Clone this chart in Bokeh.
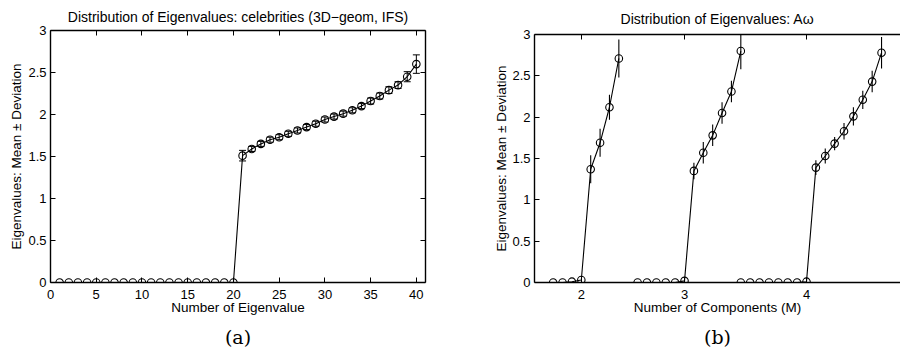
from bokeh.plotting import figure
from bokeh.models import (ColumnDataSource, Whisker, TeeHead, LinearAxis, Range1d,
                          FixedTicker, Title, CustomLabelingPolicy)
from bokeh.layouts import row, column
from bokeh.embed import file_html
from bokeh.resources import INLINE

# ---------------- data: panel (a) ----------------
a_index = [1, 2, 3, 4, 5, 6, 7, 8, 9, 10, 11, 12, 13, 14, 15, 16, 17, 18, 19, 20,
           21, 22, 23, 24, 25, 26, 27, 28, 29, 30, 31, 32, 33, 34, 35, 36, 37, 38, 39, 40]
a_mean = [0, 0, 0, 0, 0, 0, 0, 0, 0, 0, 0, 0, 0, 0, 0, 0, 0, 0, 0, 0,
          1.51, 1.59, 1.65, 1.70, 1.73, 1.77, 1.81, 1.85, 1.89, 1.94,
          1.975, 2.01, 2.05, 2.10, 2.16, 2.22, 2.29, 2.35, 2.45, 2.60]
a_dev = [0, 0, 0, 0, 0, 0, 0, 0, 0, 0, 0, 0, 0, 0, 0, 0, 0, 0, 0, 0,
         0.063, 0.03, 0.03, 0.03, 0.03, 0.03, 0.03, 0.03, 0.03, 0.03,
         0.03, 0.03, 0.03, 0.03, 0.035, 0.035, 0.04, 0.04, 0.06, 0.11]
a_xticks = [0, 5, 10, 15, 20, 25, 30, 35, 40]
y_ticks = [0, 0.5, 1, 1.5, 2, 2.5, 3]
y_tick_labels = ["0", "0.5", "1", "1.5", "2", "2.5", "3"]

# ---------------- data: panel (b) ----------------
b1_x = [1, 2, 3, 4, 5, 6, 7, 8]
b1_mean = [0, 0, 0.01, 0.03, 1.37, 1.69, 2.12, 2.71]
b1_dev = [0, 0, 0, 0, 0.17, 0.17, 0.15, 0.23]

b2_x = [10, 11, 12, 13, 14, 15, 16, 17, 18, 19, 20, 21]
b2_mean = [0, 0, 0, 0, 0, 0.02, 1.35, 1.57, 1.78, 2.05, 2.31, 2.80]
b2_dev = [0, 0, 0, 0, 0, 0, 0.10, 0.13, 0.13, 0.13, 0.13, 0.22]

b3_x = [21, 22, 23, 24, 25, 26, 27, 28, 29, 30, 31, 32, 33, 34, 35, 36]
b3_mean = [0, 0, 0, 0, 0, 0, 0, 0.01, 1.39, 1.53, 1.68, 1.83, 2.01, 2.21, 2.43, 2.78]
b3_dev = [0, 0, 0, 0, 0, 0, 0, 0, 0.09, 0.09, 0.08, 0.10, 0.11, 0.11, 0.13, 0.19]

b_tick_pos = [4, 15, 28]
b_tick_labels = ["2", "3", "4"]

FONT = "Liberation Sans"
TICK_FS = "13px"
LABEL_FS = "13.5px"
TITLE_FS = "14px"


def style_axis(ax, labels=True):
    ax.axis_line_color = "black"
    ax.axis_line_width = 1.4
    ax.major_tick_line_color = "black"
    ax.major_tick_line_width = 1
    ax.major_tick_in = 5
    ax.major_tick_out = 0
    ax.minor_tick_line_color = None
    ax.major_label_text_font = FONT
    ax.major_label_text_color = "black"
    ax.axis_label_text_font = FONT
    ax.axis_label_text_font_style = "normal"
    ax.axis_label_text_font_size = LABEL_FS
    ax.axis_label_text_color = "black"
    if labels:
        ax.major_label_text_font_size = TICK_FS
        ax.major_label_standoff = 4
    else:
        # frame side with ticks only (no labels drawn)
        ax.major_label_policy = CustomLabelingPolicy(code="return []")
        ax.major_label_text_font_size = "0px"
        ax.major_label_standoff = 0


def make_fig(width, height, x_range, y_range, border_left, border_top, border_right, border_bottom):
    p = figure(width=width, height=height, x_range=x_range, y_range=y_range,
               output_backend="svg", toolbar_location=None, tools="",
               min_border_left=border_left, min_border_top=border_top,
               min_border_right=border_right, min_border_bottom=border_bottom)
    p.grid.visible = False
    p.outline_line_color = None
    p.background_fill_color = "white"
    p.border_fill_color = "white"
    return p


# ---------------- panel (a) ----------------
pa = make_fig(450, 354, Range1d(0, 41), Range1d(0, 3), 50, 29, 25, 71)
pa.xaxis.ticker = FixedTicker(ticks=a_xticks)
pa.yaxis.ticker = FixedTicker(ticks=y_ticks)
pa.yaxis.major_label_overrides = dict(zip(y_ticks, y_tick_labels))
pa.xaxis.axis_label = "Number of Eigenvalue"
pa.yaxis.axis_label = "Eigenvalues: Mean \u00b1 Deviation"
style_axis(pa.xaxis[0])
style_axis(pa.yaxis[0])
pa.xaxis.major_label_standoff = 7
pa.xaxis.axis_label_standoff = -2
pa.yaxis.axis_label_standoff = 1
top_a = LinearAxis(ticker=FixedTicker(ticks=a_xticks))
style_axis(top_a, labels=False)
pa.add_layout(top_a, "above")
right_a = LinearAxis(ticker=FixedTicker(ticks=y_ticks))
style_axis(right_a, labels=False)
pa.add_layout(right_a, "right")

src_a = ColumnDataSource(dict(x=a_index, y=a_mean,
                              lo=[m - d for m, d in zip(a_mean, a_dev)],
                              hi=[m + d for m, d in zip(a_mean, a_dev)]))
pa.line("x", "y", source=src_a, line_color="black", line_width=1.1)
pa.add_layout(Whisker(source=src_a, base="x", lower="lo", upper="hi",
                      line_color="black", line_width=1,
                      upper_head=TeeHead(size=7, line_color="black", line_width=1),
                      lower_head=TeeHead(size=7, line_color="black", line_width=1)))
pa.scatter("x", "y", source=src_a, marker="circle", size=7.5, fill_color=None,
           line_color="black", line_width=1.1)

pa.title = Title(text="Distribution of Eigenvalues: celebrities (3D\u2212geom, IFS)",
                 align="center", text_font=FONT, text_font_size=TITLE_FS,
                 text_font_style="normal", text_color="black", standoff=12)
pa.add_layout(Title(text="(a)", align="center", text_font="DejaVu Serif",
                    text_font_size="19px", text_font_style="normal",
                    text_color="black", standoff=13), "below")

# ---------------- panel (b) ----------------
pb = make_fig(450, 354, Range1d(-0.99, 38.02), Range1d(0, 3), 84, 33, 0, 71)
pb.xaxis.ticker = FixedTicker(ticks=b_tick_pos)
pb.xaxis.major_label_overrides = dict(zip(b_tick_pos, b_tick_labels))
pb.yaxis.ticker = FixedTicker(ticks=y_ticks)
pb.yaxis.major_label_overrides = dict(zip(y_ticks, y_tick_labels))
pb.xaxis.axis_label = "Number of Components (M)"
pb.yaxis.axis_label = "Eigenvalues: Mean \u00b1 Deviation"
style_axis(pb.xaxis[0])
style_axis(pb.yaxis[0])
pb.xaxis.major_label_standoff = 7
pb.xaxis.axis_label_standoff = -2
pb.yaxis.axis_label_standoff = 0
top_b = LinearAxis(ticker=FixedTicker(ticks=b_tick_pos))
style_axis(top_b, labels=False)
pb.add_layout(top_b, "above")

for xs, ms, ds in ((b1_x, b1_mean, b1_dev), (b2_x, b2_mean, b2_dev), (b3_x, b3_mean, b3_dev)):
    src = ColumnDataSource(dict(x=xs, y=ms,
                                lo=[m - d for m, d in zip(ms, ds)],
                                hi=[m + d for m, d in zip(ms, ds)]))
    pb.line("x", "y", source=src, line_color="black", line_width=1.1)
    pb.segment(x0="x", y0="lo", x1="x", y1="hi", source=src, line_color="black", line_width=1.1)
    pb.scatter("x", "y", source=src, marker="circle", size=7.5, fill_color=None,
               line_color="black", line_width=1.1)

pb.title = Title(text="Distribution of Eigenvalues: A\u03c9",
                 align="center", text_font=FONT, text_font_size=TITLE_FS,
                 text_font_style="normal", text_color="black", standoff=16)
pb.add_layout(Title(text="(b)", align="center", text_font="DejaVu Serif",
                    text_font_size="19px", text_font_style="normal",
                    text_color="black", standoff=13), "below")

# separate columns so that each panel keeps its own frame position
layout = row(column(pa), column(pb))
open("out.html", "w").write(file_html(layout, INLINE))
